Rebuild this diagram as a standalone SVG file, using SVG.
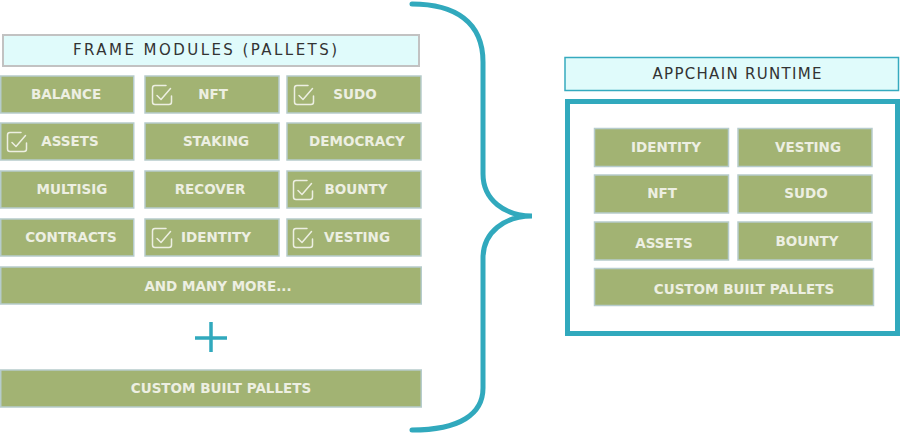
<svg xmlns="http://www.w3.org/2000/svg" width="900" height="434" viewBox="0 0 900 434">
<style>
.hdr{fill:#e0fbfb;stroke:#c2c2c2;stroke-width:2}
.hdr2{fill:#e0fbfb;stroke:#36aabf;stroke-width:1.5}
.htxt{font-family:"DejaVu Sans",Verdana,sans-serif;font-size:15px;fill:#333;text-anchor:middle}
.box{fill:#a2b373;stroke:#b6cccc;stroke-width:1.5}
.btxt{font-family:"DejaVu Sans",Verdana,sans-serif;font-weight:bold;font-size:13.5px;fill:#edefe2;text-anchor:middle}
.ic{fill:none;stroke:#edefe2;stroke-width:1.5;stroke-linecap:round;stroke-linejoin:round}
.teal{fill:none;stroke:#31a9bd;stroke-linecap:round}
</style>
<defs>
<g id="chk">
<path class="ic" d="M14,0.5 H3 Q0.5,0.5 0.5,3 V17 Q0.5,19.5 3,19.5 H17 Q19.5,19.5 19.5,17 V11"/>
<path class="ic" d="M5,10.5 L9,14.5 L18.5,3.5"/>
</g>
</defs>

<g id="frame-header">
<rect class="hdr" x="3" y="35" width="416" height="31"/>
<text class="htxt" x="205" y="55" textLength="264" lengthAdjust="spacing">FRAME MODULES (PALLETS)</text>
</g>

<g id="balance"><rect class="box" x="0.75" y="76" width="133" height="37"/><text class="btxt" x="66" y="99">BALANCE</text></g>
<g id="nft"><rect class="box" x="145" y="76" width="134" height="37"/><use href="#chk" x="152" y="85"/><text class="btxt" x="213" y="99">NFT</text></g>
<g id="sudo"><rect class="box" x="287" y="76" width="134" height="37"/><use href="#chk" x="294" y="85"/><text class="btxt" x="355" y="99">SUDO</text></g>

<g id="assets"><rect class="box" x="0.75" y="123" width="133" height="37"/><use href="#chk" x="7" y="132"/><text class="btxt" x="70" y="146">ASSETS</text></g>
<g id="staking"><rect class="box" x="145" y="123" width="134" height="37"/><text class="btxt" x="216" y="146">STAKING</text></g>
<g id="democracy"><rect class="box" x="287" y="123" width="134" height="37"/><text class="btxt" x="357" y="146">DEMOCRACY</text></g>

<g id="multisig"><rect class="box" x="0.75" y="171" width="133" height="37"/><text class="btxt" x="72" y="194">MULTISIG</text></g>
<g id="recover"><rect class="box" x="145" y="171" width="134" height="37"/><text class="btxt" x="210" y="194">RECOVER</text></g>
<g id="bounty"><rect class="box" x="287" y="171" width="134" height="37"/><use href="#chk" x="293" y="180"/><text class="btxt" x="356" y="194">BOUNTY</text></g>

<g id="contracts"><rect class="box" x="0.75" y="219" width="133" height="37"/><text class="btxt" x="71" y="242">CONTRACTS</text></g>
<g id="identity"><rect class="box" x="145" y="219" width="134" height="37"/><use href="#chk" x="152" y="228"/><text class="btxt" x="216" y="242">IDENTITY</text></g>
<g id="vesting"><rect class="box" x="287" y="219" width="134" height="37"/><use href="#chk" x="293" y="228"/><text class="btxt" x="357" y="242">VESTING</text></g>

<g id="many-more"><rect class="box" x="0.75" y="267" width="420.5" height="37"/><text class="btxt" x="218" y="291">AND MANY MORE...</text></g>

<g id="plus"><path class="teal" style="stroke-width:3.5;stroke-linecap:butt" d="M195,338 H227 M211,322 V352"/></g>

<g id="custom-left"><rect class="box" x="0.75" y="370" width="420.5" height="37"/><text class="btxt" x="221" y="393">CUSTOM BUILT PALLETS</text></g>

<g id="connectors">
<path class="teal" style="stroke-width:5" d="M412,4 C455,4 483,22 483,62 V174 C483,200 505,216 532,216 C505,216 483,232 483,258 V388 C483,414 460,430 412,430"/>
</g>

<g id="appchain-header">
<rect class="hdr2" x="565" y="57.5" width="333.5" height="33"/>
<text class="htxt" x="737" y="79" textLength="169" lengthAdjust="spacing">APPCHAIN RUNTIME</text>
</g>

<g id="runtime-frame">
<rect x="567.5" y="101.5" width="330" height="232" fill="#fff" stroke="#31a9bd" stroke-width="5"/>
</g>

<g id="rt-identity"><rect class="box" x="594.5" y="128.5" width="134" height="38"/><text class="btxt" x="666" y="152">IDENTITY</text></g>
<g id="rt-vesting"><rect class="box" x="738" y="128.5" width="134" height="38"/><text class="btxt" x="808" y="152">VESTING</text></g>
<g id="rt-nft"><rect class="box" x="594.5" y="175" width="134" height="38"/><text class="btxt" x="662" y="198">NFT</text></g>
<g id="rt-sudo"><rect class="box" x="738" y="175" width="134" height="38"/><text class="btxt" x="806" y="198">SUDO</text></g>
<g id="rt-assets"><rect class="box" x="594.5" y="222" width="134" height="38"/><text class="btxt" x="664" y="248">ASSETS</text></g>
<g id="rt-bounty"><rect class="box" x="738" y="222" width="134" height="38"/><text class="btxt" x="807" y="246">BOUNTY</text></g>
<g id="rt-custom"><rect class="box" x="594.5" y="268.5" width="279" height="37"/><text class="btxt" x="744" y="294">CUSTOM BUILT PALLETS</text></g>
</svg>
